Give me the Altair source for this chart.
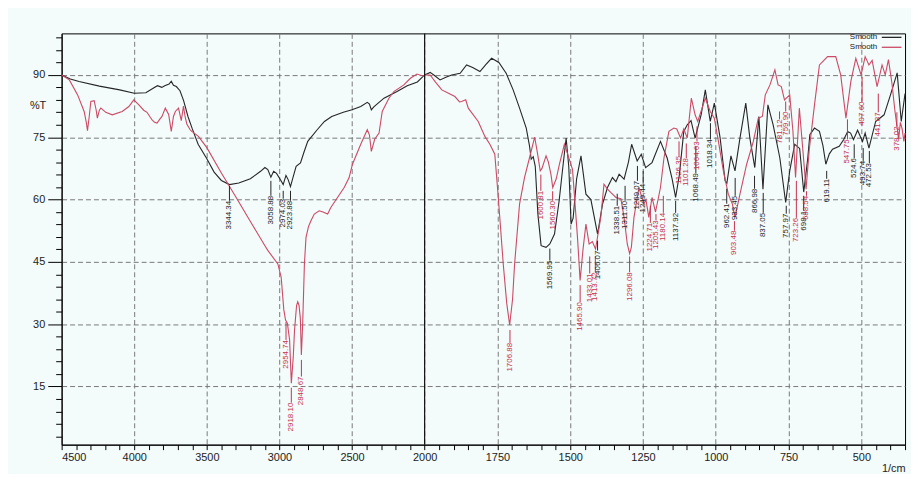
import altair as alt
import pandas as pd

# ---- spectrum 1 (black "Smooth") : (wavenumber 1/cm, %T) ----
black_points = [
    (4500, 90.0), (4440, 89.0), (4380, 88.4), (4240, 87.3), (4100, 86.4), (4000, 85.6),
    (3920, 85.7), (3870, 86.8), (3840, 87.4), (3810, 87.0), (3790, 87.4), (3760, 87.8),
    (3745, 88.5), (3730, 87.5), (3710, 87.2), (3685, 86.2), (3660, 83.8), (3630, 80.0),
    (3600, 77.0), (3560, 73.3), (3500, 69.8), (3450, 66.6), (3400, 64.6), (3344, 63.6),
    (3280, 64.0), (3200, 65.0), (3130, 66.8), (3100, 67.7), (3080, 67.2), (3059, 65.4),
    (3040, 66.8), (3020, 66.3), (2990, 64.6), (2974, 63.6), (2955, 65.8), (2940, 64.8),
    (2924, 63.1), (2905, 65.5), (2885, 68.0), (2855, 68.8), (2830, 71.5), (2805, 74.0),
    (2740, 76.8), (2690, 78.8), (2640, 80.0), (2560, 81.0), (2500, 81.6), (2440, 82.4),
    (2395, 83.4), (2380, 83.0), (2367, 81.6), (2350, 82.3), (2280, 84.4), (2190, 86.0),
    (2120, 87.4), (2050, 88.3), (2000, 90.0), (1981, 90.6), (1965, 89.8), (1947, 88.8),
    (1925, 89.5), (1907, 90.0), (1878, 90.4), (1856, 92.4), (1835, 91.8), (1810, 90.8),
    (1790, 92.5), (1770, 94.0), (1745, 93.0), (1720, 90.4), (1696, 86.4), (1674, 82.0),
    (1651, 77.2), (1640, 73.0), (1634, 69.7), (1627, 70.3), (1620, 68.0), (1611, 56.5),
    (1600, 48.9), (1583, 48.5), (1570, 49.3), (1554, 51.7), (1538, 59.7), (1525, 68.0),
    (1514, 74.8), (1505, 68.0), (1497, 54.1), (1490, 55.5), (1478, 65.0), (1463, 70.5),
    (1446, 61.3), (1429, 60.0), (1406, 51.7), (1389, 58.9), (1372, 62.9), (1355, 65.3),
    (1343, 64.3), (1332, 66.1), (1315, 64.9), (1300, 69.0), (1289, 73.3), (1270, 69.3),
    (1256, 70.9), (1241, 67.7), (1219, 68.9), (1190, 74.0), (1167, 70.0), (1150, 65.0),
    (1138, 60.5), (1125, 66.0), (1110, 76.4), (1098, 78.0), (1085, 79.0), (1071, 74.8),
    (1050, 80.5), (1036, 86.4), (1019, 78.8), (1005, 83.2), (985, 74.8), (968, 64.5),
    (962, 63.9), (948, 70.5), (934, 66.9), (917, 74.8), (897, 83.2), (883, 74.8),
    (866, 67.7), (852, 80.0), (838, 62.5), (821, 82.8), (803, 78.0), (780, 70.0),
    (760, 59.3), (746, 66.9), (729, 73.3), (712, 72.3), (698, 61.8), (684, 70.0),
    (677, 75.6), (661, 77.2), (644, 76.4), (632, 73.0), (622, 68.5), (610, 71.0),
    (599, 72.1), (576, 72.8), (560, 74.5), (547, 76.4), (537, 76.0), (527, 74.4),
    (513, 76.7), (496, 74.0), (487, 76.0), (474, 72.4), (451, 78.8), (422, 80.4),
    (400, 85.2), (377, 90.5), (363, 78.8), (350, 85.5),
]

# ---- spectrum 2 (red "Smooth") ----
red_points = [
    (4500, 90.0), (4447, 88.8), (4390, 85.2), (4345, 81.2), (4330, 78.5), (4322, 76.6),
    (4310, 80.0), (4299, 83.6), (4276, 83.8), (4262, 81.5), (4254, 79.6), (4240, 81.5),
    (4230, 82.0), (4196, 81.0), (4151, 80.4), (4083, 81.2), (4037, 82.4), (4003, 84.0),
    (3968, 82.8), (3935, 81.5), (3912, 81.0), (3890, 79.8), (3877, 79.2), (3860, 78.6),
    (3843, 78.4), (3825, 79.3), (3809, 80.0), (3786, 82.0), (3763, 80.5), (3745, 76.4),
    (3730, 80.0), (3717, 81.2), (3695, 82.0), (3676, 79.0), (3661, 82.5), (3650, 80.0),
    (3638, 78.2), (3615, 76.8), (3604, 76.4), (3580, 75.8), (3558, 75.2), (3500, 72.5),
    (3400, 66.4), (3300, 60.6), (3200, 54.7), (3100, 48.9), (3079, 47.7), (3011, 44.5),
    (2988, 41.3), (2970, 33.5), (2958, 31.0), (2945, 30.2), (2930, 26.2), (2918, 15.8),
    (2905, 22.0), (2896, 28.6), (2882, 34.5), (2874, 35.4), (2865, 34.5), (2856, 31.4),
    (2849, 22.6), (2840, 30.0), (2828, 44.5), (2817, 50.9), (2800, 53.5), (2783, 54.9),
    (2760, 56.5), (2726, 57.3), (2700, 57.0), (2668, 56.5), (2646, 58.1), (2600, 60.5),
    (2554, 62.9), (2520, 65.3), (2497, 68.5), (2440, 73.3), (2395, 76.8), (2380, 75.5),
    (2367, 71.6), (2344, 74.5), (2314, 76.0), (2292, 81.2), (2246, 84.4), (2212, 86.0),
    (2143, 87.6), (2098, 89.2), (2053, 90.2), (2007, 89.7), (2000, 90.0), (1981, 90.0),
    (1964, 88.4), (1941, 86.4), (1918, 85.6), (1896, 84.8), (1880, 83.5), (1873, 83.6),
    (1859, 84.0), (1850, 82.0), (1816, 78.8), (1793, 75.2), (1776, 73.3), (1759, 70.9),
    (1747, 60.5), (1730, 44.5), (1718, 35.0), (1708, 29.8), (1698, 36.0), (1691, 44.5),
    (1674, 58.9), (1657, 65.3), (1640, 70.0), (1622, 75.0), (1612, 71.0), (1603, 66.9),
    (1597, 67.5), (1583, 70.5), (1575, 69.0), (1566, 66.0), (1560, 62.9), (1548, 65.0),
    (1537, 68.5), (1520, 73.3), (1509, 71.0), (1492, 67.2), (1475, 50.9), (1466, 40.5),
    (1456, 48.0), (1446, 54.1), (1435, 49.3), (1424, 49.9), (1413, 48.1), (1395, 55.7),
    (1384, 63.7), (1372, 62.5), (1361, 61.7), (1343, 60.5), (1326, 60.2), (1315, 55.7),
    (1304, 49.3), (1296, 47.0), (1290, 48.5), (1281, 55.7), (1264, 62.9), (1247, 58.9),
    (1240, 60.0), (1230, 55.7), (1219, 60.5), (1207, 57.0), (1190, 62.9), (1178, 70.0),
    (1161, 76.4), (1144, 77.2), (1134, 77.0), (1121, 74.8), (1110, 77.0), (1098, 74.8),
    (1084, 84.4), (1071, 80.4), (1062, 78.8), (1048, 81.8), (1036, 84.4), (1019, 81.2),
    (1005, 79.6), (991, 74.0), (974, 66.9), (957, 61.3), (943, 58.9), (934, 55.7),
    (917, 61.3), (894, 68.5), (871, 74.0), (854, 79.6), (840, 80.0), (830, 85.2),
    (814, 87.6), (797, 91.2), (786, 87.6), (775, 87.2), (764, 84.0), (746, 85.2),
    (735, 76.4), (726, 65.3), (713, 82.0), (701, 72.0), (690, 62.5), (679, 72.0),
    (661, 82.8), (644, 92.4), (616, 94.4), (588, 94.4), (571, 90.0), (553, 79.6),
    (536, 88.5), (519, 94.0), (501, 90.0), (487, 94.4), (474, 92.4), (463, 93.5),
    (446, 87.2), (429, 92.4), (418, 90.0), (407, 93.7), (395, 88.0), (385, 81.5),
    (372, 74.5), (366, 78.6), (360, 77.0), (354, 74.0), (350, 76.0),
]

# ---- peak annotations: (text, wavenumber, %T at tick start, %T at text start) ----
black_labels = [
    ("3344.34", 3344.34, 63.3, 59.7), ("3058.88", 3058.88, 64.5, 60.9),
    ("2974.03", 2974.03, 62.1, 60.2), ("2923.88", 2923.88, 62.1, 59.7),
    ("1569.95", 1569.95, 48.2, 45.3), ("1406.07", 1406.07, 50.1, 47.7),
    ("1338.51", 1338.51, 61.4, 58.5), ("1311.50", 1311.50, 63.3, 59.7),
    ("1269.07", 1269.07, 68.1, 64.5), ("1249.44", 1249.44, 66.9, 63.8),
    ("1137.92", 1137.92, 59.7, 56.8), ("1068.49", 1068.49, 72.9, 66.4),
    ("1018.34", 1018.34, 78.4, 74.5), ("962.41", 962.41, 62.6, 59.0),
    ("933.45", 933.45, 65.2, 60.9), ("866.98", 866.98, 65.7, 62.6),
    ("837.05", 837.05, 61.6, 56.8), ("757.97", 757.97, 58.5, 56.6),
    ("698.1", 698.1, 60.9, 57.3), ("619.11", 619.11, 66.9, 65.0),
    ("524.6", 524.6, 73.3, 70.0), ("493.74", 493.74, 72.4, 69.3),
    ("472.53", 472.53, 71.7, 68.8),
]
red_labels = [
    ("2954.74", 2954.74, 30.5, 26.2), ("2918.10", 2918.10, 14.7, 11.1),
    ("2848.67", 2848.67, 21.4, 17.4), ("1706.88", 1706.88, 28.6, 25.5),
    ("1600.81", 1600.81, 66.0, 62.1), ("1560.30", 1560.30, 62.0, 59.7),
    ("1465.90", 1465.90, 39.4, 35.3), ("1433.01", 1433.01, 46.3, 42.2),
    ("1413.72", 1413.72, 46.3, 42.5), ("1296.08", 1296.08, 46.3, 42.5),
    ("1224.71", 1224.71, 58.5, 54.4), ("1205.43", 1205.43, 56.5, 55.0),
    ("1180.14", 1180.14, 60.9, 56.8), ("1126.35", 1126.35, 74.0, 70.5),
    ("1101.28", 1101.28, 73.5, 70.0), ("1064.63", 1064.63, 77.6, 74.0),
    ("903.48", 936.0, 54.8, 52.5), ("781.12", 781.12, 81.2, 79.3),
    ("759.90", 759.90, 83.6, 81.2), ("723.26", 723.26, 64.5, 55.6),
    ("688.54", 688.54, 62.0, 60.9), ("547.75", 547.75, 79.3, 74.5),
    ("497.60", 497.60, 89.5, 83.6), ("441.87", 441.87, 85.5, 81.0),
    ("378.02", 378.02, 81.0, 77.6),
]

x_major = [4500, 4000, 3500, 3000, 2500, 2000, 1750, 1500, 1250, 1000, 750, 500]
x_minor = [v for v in range(4500, 2000, -100) if v not in x_major] + \
          [v for v in range(1950, 349, -50) if v not in x_major]
y_major = [15, 30, 45, 60, 75, 90]
y_minor = [v for v in range(3, 100, 3) if v not in y_major]
divider = [2000]

BLACK = "#262626"
RED = "#cc4a66"
LBL_RED = "#c8304e"

W, H = 849, 414
xscale = alt.Scale(domain=[4500, 2000, 350], range=[0, 365.4, W])
yscale = alt.Scale(domain=[1, 100])
cscale = alt.Scale(domain=["Smooth 1", "Smooth 2"], range=[BLACK, RED])

bdf = pd.DataFrame(black_points, columns=["wn", "T"]).assign(series="Smooth 1")
rdf = pd.DataFrame(red_points, columns=["wn", "T"]).assign(series="Smooth 2")

lab = pd.concat([
    pd.DataFrame(black_labels, columns=["label", "wn", "t0", "t1"]).assign(col=BLACK),
    pd.DataFrame(red_labels, columns=["label", "wn", "t0", "t1"]).assign(col=LBL_RED),
])

legend = alt.Legend(
    orient="none", legendX=830, legendY=-1.5, offset=0, title=None,
    symbolType="M-2.2,0L2.2,0", symbolSize=81, symbolStrokeWidth=1.3,
    labelFontSize=8, labelAlign="right", labelOffset={"expr": "-20"},
    labelExpr="'Smooth'", rowPadding=0, padding=0,
    direction="vertical", labelColor="#222",
)

grid_common = dict(gridDash=[5, 3], gridColor="#7a7a7a", gridWidth=1)

x_axis_major = alt.Axis(
    values=x_major, orient="bottom", format="d", tickSize=5, labelPadding=2,
    grid=True, labelFontSize=11, title="1/cm", titleX=W, titleY=27,
    titleAlign="right", titleBaseline="alphabetic", titleFontSize=11,
    titleFontWeight="normal", **grid_common,
)
y_axis_major = alt.Axis(
    values=y_major, orient="left", tickSize=14, labelPadding=3, grid=True,
    labelFontSize=11, title="%T", titleAngle=0, titleX=-16, titleY=73,
    titleAlign="right", titleBaseline="middle", titleFontSize=11,
    titleFontWeight="normal", **grid_common,
)
x_axis_minor = alt.Axis(values=x_minor, orient="bottom", tickSize=5, labels=False,
                        grid=False, domain=False, title=None)
y_axis_minor = alt.Axis(values=y_minor, orient="left", tickSize=6, labels=False,
                        grid=False, domain=False, title=None)

black_line = alt.Chart(bdf).mark_line(strokeWidth=1.1).encode(
    x=alt.X("wn:Q", scale=xscale, axis=x_axis_major),
    y=alt.Y("T:Q", scale=yscale, axis=y_axis_major),
    color=alt.Color("series:N", scale=cscale, legend=legend),
)
red_line = alt.Chart(rdf).mark_line(strokeWidth=1.1).encode(
    x=alt.X("wn:Q", scale=xscale, axis=x_axis_minor),
    y=alt.Y("T:Q", scale=yscale, axis=y_axis_minor),
    color=alt.Color("series:N", scale=cscale, legend=legend),
)

div_rule = alt.Chart(pd.DataFrame({"wn": divider})).mark_rule(
    color="#111", strokeWidth=1.2
).encode(x=alt.X("wn:Q", scale=xscale, axis=None))

tick_rules = alt.Chart(lab).mark_rule(strokeWidth=1).encode(
    x=alt.X("wn:Q", scale=xscale, axis=None),
    y=alt.Y("t0:Q", scale=yscale, axis=None),
    y2="t1:Q",
    color=alt.Color("col:N", scale=None, legend=None),
)
tick_text = alt.Chart(lab).mark_text(
    angle=270, align="right", baseline="middle", fontSize=8
).encode(
    x=alt.X("wn:Q", scale=xscale, axis=None),
    y=alt.Y("t1:Q", scale=yscale, axis=None),
    text="label:N",
    color=alt.Color("col:N", scale=None, legend=None),
)

chart = alt.layer(
    black_line, red_line, div_rule, tick_rules, tick_text
).resolve_axis(x="independent", y="independent").properties(
    width=W, height=H,
    autosize=alt.AutoSizeParams(type="none"),
    padding={"left": 54, "top": 24, "right": 6, "bottom": 28},
    background="#f3fbfb",
).configure(
    font="Liberation Sans",
).configure_view(
    fill="#f3fbfb", stroke="#000", strokeWidth=1,
).configure_axis(
    domainColor="#000", tickColor="#000", labelColor="#222", titleColor="#222",
)

chart.save("out.html", embed_options={"renderer": "svg", "actions": False})
